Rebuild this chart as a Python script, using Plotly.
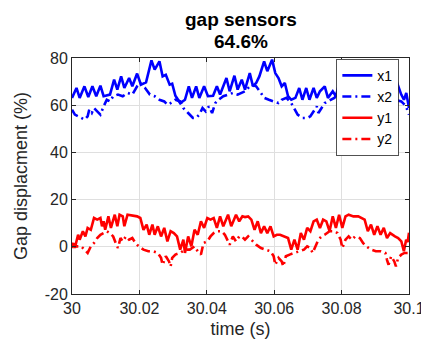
import plotly.graph_objects as go

# ---------------- data ----------------
x1_time = [30.00000, 30.00133, 30.00227, 30.00369, 30.00483, 30.00606, 30.00720, 30.00843, 30.00938,
           30.01127, 30.01250, 30.01345, 30.01458, 30.01553, 30.01695, 30.01790, 30.01932, 30.02045,
           30.02197, 30.02358, 30.02453, 30.02595, 30.02689, 30.02784, 30.02898, 30.02973, 30.03068,
           30.03210, 30.03352, 30.03466, 30.03561, 30.03684, 30.03778, 30.03920, 30.04034, 30.04186,
           30.04299, 30.04394, 30.04583, 30.04678, 30.04820, 30.04915, 30.05038, 30.05133, 30.05275,
           30.05369, 30.05464, 30.05559, 30.05701, 30.05795, 30.05937, 30.06032, 30.06127, 30.06222,
           30.06316, 30.06411, 30.06506, 30.06629, 30.06742, 30.06837, 30.06951, 30.07045, 30.07169,
           30.07263, 30.07358, 30.07500, 30.07595, 30.07737, 30.07831, 30.07954, 30.08021, 30.08150,
           30.08240, 30.08340, 30.08450, 30.08560, 30.08680, 30.08800, 30.08900, 30.09015, 30.09120,
           30.09260, 30.09350, 30.09450, 30.09550, 30.09650, 30.09770, 30.09850, 30.09920, 30.10000]
x1_vals = [63.1, 67.3, 63.1, 68.0, 63.5, 68.0, 63.8, 68.3, 63.8,
           64.5, 70.8, 66.6, 72.2, 67.3, 71.5, 68.0, 73.4, 68.7,
           69.7, 79.0, 75.1, 78.6, 72.2, 72.9, 68.7, 69.1, 64.0,
           60.9, 62.3, 68.0, 63.1, 68.0, 63.1, 68.0, 63.8, 64.0,
           68.0, 64.5, 71.5, 65.9, 72.5, 66.6, 70.8, 66.6, 73.6,
           68.0, 69.4, 72.2, 78.6, 74.4, 79.3, 73.6, 71.5, 68.0,
           69.4, 63.8, 62.3, 63.1, 67.3, 62.3, 67.3, 62.3, 67.3,
           63.1, 65.9, 68.0, 63.1, 65.9, 63.8, 70.8, 65.9, 69.0,
           72.5, 66.6, 72.0, 68.0, 71.0, 72.5, 74.4, 79.3, 74.4,
           78.6, 73.6, 71.5, 68.0, 69.4, 64.5, 62.3, 65.2, 58.8]

x2_time = [30.00000, 30.00085, 30.00275, 30.00369, 30.00464, 30.00511, 30.00587, 30.00653, 30.00748,
           30.00843, 30.00938, 30.01032, 30.01127, 30.01222, 30.01364, 30.01506, 30.01648, 30.01790,
           30.01932, 30.02027, 30.02169, 30.02311, 30.02453, 30.02595, 30.02737, 30.02831, 30.02926,
           30.03068, 30.03210, 30.03305, 30.03447, 30.03589, 30.03684, 30.03778, 30.03873, 30.03968,
           30.04063, 30.04157, 30.04252, 30.04347, 30.04489, 30.04631, 30.04773, 30.04915, 30.05133,
           30.05322, 30.05464, 30.05606, 30.05701, 30.05843, 30.05985, 30.06127, 30.06222, 30.06364,
           30.06506, 30.06600, 30.06695, 30.06837, 30.06979, 30.07074, 30.07169, 30.07263, 30.07311,
           30.07405, 30.07500, 30.07595, 30.07689, 30.07784, 30.07879, 30.08021, 30.08200, 30.08400,
           30.08600, 30.08800, 30.09000, 30.09200, 30.09400, 30.09600, 30.09770, 30.09870, 30.09950,
           30.10000]
x2_vals = [58.1, 56.0, 54.6, 53.9, 55.3, 58.1, 56.7, 58.8, 57.4,
           56.0, 59.5, 62.3, 61.6, 63.8, 64.5, 63.8, 65.2, 64.5,
           68.0, 69.4, 67.3, 64.5, 63.8, 62.3, 61.6, 60.2, 60.9,
           62.3, 61.6, 58.8, 56.7, 54.6, 54.6, 56.0, 58.8, 57.4,
           59.5, 56.7, 60.9, 62.3, 63.8, 64.5, 65.2, 64.5, 65.9,
           68.7, 68.0, 65.2, 63.1, 62.3, 61.6, 60.9, 62.3, 63.1,
           60.9, 58.1, 56.0, 54.6, 54.6, 55.3, 57.4, 59.5, 56.7,
           58.8, 60.9, 61.6, 62.3, 63.1, 64.5, 65.2, 66.6, 68.5,
           67.5, 65.0, 63.5, 62.5, 62.0, 62.3, 61.6, 60.2, 58.1,
           56.0]

y1_time = [30.00000, 30.00038, 30.00085, 30.00180, 30.00227, 30.00322, 30.00398, 30.00464, 30.00559,
           30.00653, 30.00748, 30.00843, 30.00890, 30.00938, 30.00985, 30.01080, 30.01155, 30.01269,
           30.01345, 30.01411, 30.01506, 30.01553, 30.01648, 30.01790, 30.01932, 30.02027, 30.02121,
           30.02216, 30.02292, 30.02386, 30.02453, 30.02547, 30.02642, 30.02737, 30.02831, 30.02926,
           30.03021, 30.03116, 30.03210, 30.03305, 30.03352, 30.03447, 30.03542, 30.03636, 30.03731,
           30.03826, 30.03920, 30.04015, 30.04110, 30.04205, 30.04299, 30.04394, 30.04489, 30.04631,
           30.04725, 30.04867, 30.04962, 30.05057, 30.05133, 30.05227, 30.05322, 30.05417, 30.05511,
           30.05606, 30.05701, 30.05795, 30.05890, 30.05985, 30.06079, 30.06174, 30.06316, 30.06411,
           30.06506, 30.06600, 30.06695, 30.06790, 30.06884, 30.06979, 30.07074, 30.07169, 30.07263,
           30.07358, 30.07452, 30.07547, 30.07642, 30.07737, 30.07831, 30.07926, 30.08021, 30.08115,
           30.08210, 30.08352, 30.08494, 30.08589, 30.08684, 30.08778, 30.08873, 30.08968, 30.09063,
           30.09157, 30.09252, 30.09347, 30.09441, 30.09583, 30.09678, 30.09773, 30.09848, 30.09915,
           30.09960, 30.10000]
y1_vals = [0.2, 1.6, -0.5, 5.1, 3.0, 6.6, 4.4, 8.0, 7.2,
           12.2, 11.5, 12.2, 8.7, 10.8, 7.2, 12.9, 8.0, 13.6,
           8.7, 13.6, 12.9, 8.7, 13.6, 13.2, 12.9, 12.2, 7.2,
           9.4, 5.1, 9.4, 5.1, 8.7, 4.4, 8.0, 2.3, 6.6,
           5.8, 4.4, -1.2, 3.0, -2.6, 4.4, 0.2, 7.2, 5.1,
           10.8, 8.0, 12.2, 11.5, 12.2, 8.0, 12.9, 8.7, 13.6,
           8.7, 13.6, 10.8, 12.9, 12.6, 12.9, 11.5, 7.2, 10.8,
           5.8, 8.7, 5.8, 8.7, 4.4, 5.1, 5.1, 4.4, 3.7,
           -1.2, 3.0, -1.2, 5.8, 3.0, 8.0, 6.6, 10.8, 11.5,
           8.0, 11.5, 10.8, 6.6, 12.9, 8.0, 13.6, 8.0, 12.9,
           13.6, 12.9, 12.9, 12.2, 11.5, 6.6, 9.4, 5.1, 8.7,
           5.1, 8.0, 3.7, 5.8, 4.4, 3.7, 2.3, -1.9, 3.0,
           2.0, 6.0]

y2_time = [30.00000, 30.00038, 30.00133, 30.00275, 30.00369, 30.00464, 30.00559, 30.00653, 30.00748,
           30.00843, 30.00938, 30.01032, 30.01127, 30.01222, 30.01316, 30.01364, 30.01439, 30.01506,
           30.01600, 30.01695, 30.01790, 30.01884, 30.01979, 30.02121, 30.02263, 30.02405, 30.02547,
           30.02642, 30.02689, 30.02784, 30.02879, 30.02926, 30.02973, 30.03068, 30.03210, 30.03352,
           30.03494, 30.03636, 30.03731, 30.03826, 30.03902, 30.04015, 30.04110, 30.04205, 30.04299,
           30.04441, 30.04536, 30.04678, 30.04773, 30.04867, 30.04962, 30.05038, 30.05133, 30.05227,
           30.05322, 30.05464, 30.05606, 30.05748, 30.05890, 30.05985, 30.06032, 30.06127, 30.06222,
           30.06269, 30.06345, 30.06458, 30.06600, 30.06742, 30.06884, 30.06979, 30.07074, 30.07140,
           30.07216, 30.07311, 30.07405, 30.07500, 30.07642, 30.07784, 30.07879, 30.07973, 30.08021,
           30.08115, 30.08210, 30.08305, 30.08400, 30.08542, 30.08636, 30.08731, 30.08873, 30.09015,
           30.09157, 30.09299, 30.09347, 30.09394, 30.09470, 30.09564, 30.09612, 30.09678, 30.09773,
           30.09867, 30.09962, 30.10000]
y2_vals = [-0.5, 0.9, 0.2, 0.2, -1.2, -2.6, 0.2, 1.6, 3.7,
           5.1, 5.8, 6.6, 5.8, 4.4, 0.9, -0.5, 3.7, 2.3,
           4.4, 3.0, 3.7, 1.6, 0.2, -1.2, -1.9, -1.9, -2.6,
           -4.7, -7.6, -4.0, -6.2, -8.3, -4.7, -3.3, -2.6, -1.2,
           -1.2, 0.2, -1.9, -3.3, 1.6, 2.3, 4.4, 5.8, 6.6,
           6.6, 5.1, 0.9, 4.4, 2.3, 4.4, 4.4, 3.0, 4.4,
           3.0, 0.9, -0.5, -1.2, -1.9, -4.0, -7.6, -4.7, -6.2,
           -8.3, -4.0, -3.3, -2.6, -1.9, -1.2, 0.2, -0.5, -2.6,
           0.2, 3.0, 4.4, 5.1, 6.6, 6.6, 5.8, 3.0, -0.5,
           3.0, 4.4, 3.0, 4.4, 3.7, 1.6, 0.2, -1.2, -1.9,
           -1.9, -2.6, -5.5, -7.6, -4.0, -6.2, -8.3, -4.7, -3.3,
           -2.6, -2.6, -1.0]

x_ticks = [30, 30.02, 30.04, 30.06, 30.08, 30.1]
x_ticktext = ["30", "30.02", "30.04", "30.06", "30.08", "30.1"]
y_ticks = [-20, 0, 20, 40, 60, 80]
y_ticktext = ["-20", "0", "20", "40", "60", "80"]
title_lines = ["gap sensors", "64.6%"]

series = [
    ("x1", x1_time, x1_vals, "#0000ff", "solid"),
    ("x2", x2_time, x2_vals, "#0000ff", "9px,4px,2px,4px"),
    ("y1", y1_time, y1_vals, "#ff0000", "solid"),
    ("y2", y2_time, y2_vals, "#ff0000", "9px,4px,2px,4px"),
]

FONT = "Liberation Sans, Arial, Helvetica, sans-serif"
AXC = "#262626"

fig = go.Figure()
for name, t, v, col, dash in series:
    fig.add_trace(go.Scatter(x=t, y=v, name=name, mode="lines",
                             line=dict(color=col, width=2.6, dash=dash)))

# two-line bold title, one annotation per line
for txt, ypos in zip(title_lines, [1.165, 1.07]):
    fig.add_annotation(text="<b>" + txt + "</b>", xref="paper", yref="paper",
                       x=0.5, y=ypos, xanchor="center", yanchor="middle",
                       showarrow=False, font=dict(size=19, color="black", family=FONT))

fig.update_layout(
    width=429, height=345,
    margin=dict(l=62, r=15, t=50, b=59),
    paper_bgcolor="white", plot_bgcolor="white",
    font=dict(family=FONT, color=AXC),
    legend=dict(x=0.969, xanchor="right", y=0.996, yanchor="top",
                bgcolor="white", bordercolor=AXC, borderwidth=0.8,
                font=dict(size=14, color="black", family=FONT),
                itemwidth=30, tracegroupgap=0),
    showlegend=True,
)
fig.update_xaxes(range=[30, 30.1000001], tickvals=x_ticks, ticktext=x_ticktext,
                 ticklabeloverflow="allow",
                 showgrid=True, gridcolor="#dfdfdf", gridwidth=1,
                 showline=True, linecolor=AXC, linewidth=1, mirror="ticks",
                 ticks="inside", ticklen=4, tickcolor=AXC,
                 tickfont=dict(size=16, color=AXC), zeroline=False,
                 title=dict(text="time (s)", font=dict(size=18, color=AXC), standoff=6))
fig.update_yaxes(range=[-20, 80], tickvals=y_ticks, ticktext=y_ticktext,
                 showgrid=True, gridcolor="#dfdfdf", gridwidth=1,
                 showline=True, linecolor=AXC, linewidth=1, mirror="ticks",
                 ticks="inside", ticklen=4, tickcolor=AXC,
                 tickfont=dict(size=16, color=AXC), zeroline=False,
                 title=dict(text="Gap displacment (%)", font=dict(size=18, color=AXC), standoff=12))

fig.write_html("out.html")
